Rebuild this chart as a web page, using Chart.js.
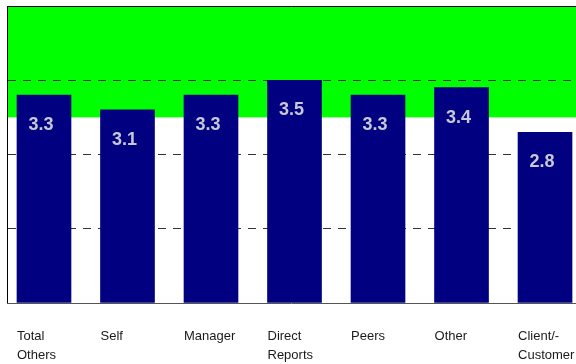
<!DOCTYPE html>
<html>
<head>
<meta charset="utf-8">
<script src="https://cdn.jsdelivr.net/npm/chart.js@4/dist/chart.umd.min.js"></script>
<style>
  html, body { margin: 0; padding: 0; background: #fff; overflow: hidden; }
  .chart-box { position: relative; width: 576px; height: 364px; }
</style>
</head>
<body>
<div class="chart-box"><canvas id="rater-chart"></canvas></div>
<script>
const raterGroups = [
  ['Total', 'Others'],
  ['Self'],
  ['Manager'],
  ['Direct', 'Reports'],
  ['Peers'],
  ['Other'],
  ['Client/-', 'Customer'],
];
const averageScores = [3.3, 3.1, 3.3, 3.5, 3.3, 3.4, 2.8];
const scaleTicks = [0.5, 1.5, 2.5, 3.5, 4.5];
const targetScore = 3.0;

// green band above the target score, plus the frame lines
const backdrop = {
  id: 'backdrop',
  beforeDraw(chart) {
    const { ctx, chartArea: a, scales: { y } } = chart;
    const yTarget = y.getPixelForValue(targetScore);
    ctx.save();
    ctx.fillStyle = '#00ff00';
    ctx.fillRect(a.left, a.top, a.right - a.left, yTarget - a.top);
    ctx.restore();
  },
  afterDraw(chart) {
    const { ctx, chartArea: a } = chart;
    ctx.save();
    ctx.lineWidth = 1;
    ctx.strokeStyle = '#000';
    ctx.beginPath();
    ctx.moveTo(a.left, Math.round(a.top) + 0.5);
    ctx.lineTo(a.right, Math.round(a.top) + 0.5);
    ctx.stroke();
    ctx.strokeStyle = '#555';
    ctx.beginPath();
    ctx.moveTo(a.left, Math.round(a.bottom) + 0.5);
    ctx.lineTo(a.right, Math.round(a.bottom) + 0.5);
    ctx.stroke();
    ctx.restore();
  },
};

// value inside each bar, group name under it
const barText = {
  id: 'barText',
  afterDatasetsDraw(chart) {
    const { ctx, chartArea: a } = chart;
    const bars = chart.getDatasetMeta(0).data;
    ctx.save();
    bars.forEach((bar, i) => {
      ctx.font = 'bold 18px "Liberation Sans", Arial, sans-serif';
      ctx.fillStyle = '#c8c8d4';
      ctx.textAlign = 'center';
      ctx.textBaseline = 'alphabetic';
      ctx.fillText(averageScores[i].toFixed(1), bar.x - 3, bar.y + 35);

      ctx.font = '13px "Liberation Sans", Arial, sans-serif';
      ctx.fillStyle = '#1a1a1a';
      ctx.textAlign = 'left';
      const left = bar.x - bar.width / 2;
      raterGroups[i].forEach((line, j) => {
        ctx.fillText(line, left, a.bottom + 37 + j * 19);
      });
    });
    ctx.restore();
  },
};

new Chart(document.getElementById('rater-chart'), {
  type: 'bar',
  data: {
    datasets: [{
      data: averageScores.map((v, i) => ({ x: i, y: v })),
      backgroundColor: '#000080',
      borderWidth: 0,
      barThickness: 54,
      base: scaleTicks[0],
    }],
  },
  options: {
    responsive: true,
    maintainAspectRatio: false,
    animation: false,
    layout: { padding: { left: 7, top: 6, right: 0, bottom: 61 } },
    plugins: { legend: { display: false }, tooltip: { enabled: false } },
    scales: {
      x: {
        type: 'linear',
        display: false,
        offset: false,
        min: -0.443,
        max: 6.371,
      },
      y: {
        min: scaleTicks[0],
        max: scaleTicks[scaleTicks.length - 1],
        afterBuildTicks: (axis) => {
          axis.ticks = scaleTicks.map((v) => ({ value: v }));
        },
        ticks: { display: false },
        grid: {
          drawTicks: false,
          tickLength: 0,
          lineWidth: 1,
          color: (c) => (c.index === 0 || c.index === scaleTicks.length - 1 ? 'rgba(0,0,0,0)' : '#333'),
        },
        border: { display: true, color: '#000', width: 1, dash: [8, 7] },
      },
    },
  },
  plugins: [backdrop, barText],
});
</script>
</body>
</html>
